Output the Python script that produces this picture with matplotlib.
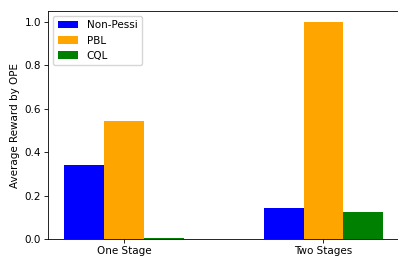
import matplotlib
matplotlib.use("Agg")
import matplotlib.pyplot as plt
import numpy as np

categories = ["One Stage", "Two Stages"]
series_names = ["Non-Pessi", "PBL", "CQL"]
non_pessi = [0.341, 0.143]
pbl = [0.544, 1.0]
cql = [0.004, 0.124]
colors = ["blue", "orange", "green"]

s = 0.75
plt.rcParams.update({
    "font.size": 10 * s,
    "axes.linewidth": 0.8 * s,
    "xtick.major.size": 3.5 * s,
    "ytick.major.size": 3.5 * s,
    "xtick.major.width": 0.8 * s,
    "ytick.major.width": 0.8 * s,
    "xtick.major.pad": 3.5 * s,
    "ytick.major.pad": 3.5 * s,
    "axes.labelpad": 4.0 * s,
})

fig = plt.figure(figsize=(3.98, 2.59), dpi=100)
ax = fig.add_axes([48.2 / 398, 20 / 259, 351.1 / 398, 228 / 259])

x = np.arange(len(categories))
w = 0.2
for i, (vals, name, c) in enumerate(zip([non_pessi, pbl, cql], series_names, colors)):
    ax.bar(x + (i - 1) * w, vals, w, label=name, color=c)

ax.set_xticks(x)
ax.set_xticklabels(categories)
ax.set_ylabel("Average Reward by OPE")
ax.legend(loc="upper left")
fig.savefig("out.png", dpi=100)
